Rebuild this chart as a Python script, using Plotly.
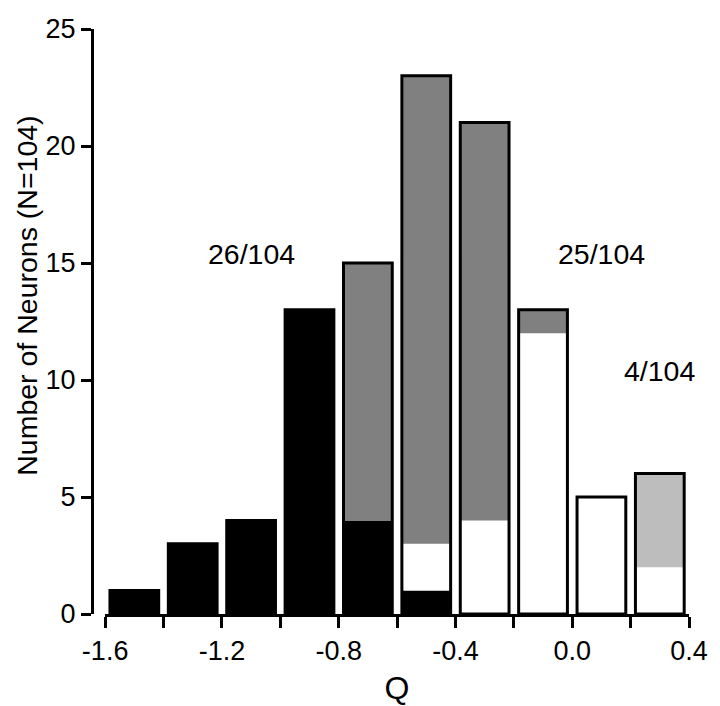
import numpy as np
import plotly.graph_objects as go

# Bin centres of the Q histogram
q_centers = [-1.5, -1.3, -1.1, -0.9, -0.7, -0.5, -0.3, -0.1, 0.1, 0.3]

# Neuron counts per bin, split by group
black_counts = [1, 3, 4, 13, 4, 1, 0, 0, 0, 0]
white_counts = [0, 0, 0, 0, 0, 2, 4, 12, 5, 2]
dark_counts = [0, 0, 0, 0, 11, 20, 17, 1, 0, 0]
light_counts = [0, 0, 0, 0, 0, 0, 0, 0, 0, 4]

# Group fractions written above the bars
group_labels = ["26/104", "49/104", "25/104", "4/104"]
label_x = [-1.1, -0.5, 0.1, 0.3]
label_y = [15.4, 25.4, 15.4, 10.4]

x_tickvals = [-1.6, -1.4, -1.2, -1.0, -0.8, -0.6, -0.4, -0.2, 0.0, 0.2, 0.4]
x_ticktext = ["-1.6", "", "-1.2", "", "-0.8", "", "-0.4", "", "0.0", "", "0.4"]
y_tickvals = [0, 5, 10, 15, 20, 25]

FONT = "Arial, 'Liberation Sans', sans-serif"
BAR_W = 0.167

black = np.array(black_counts)
white = np.array(white_counts)
dark = np.array(dark_counts)
light = np.array(light_counts)

# stack bottom -> top: black, white, dark gray, light gray
layers = [
    (black, np.zeros_like(black), "#000000"),
    (white, black, "#ffffff"),
    (dark, black + white, "#808080"),
    (light, black + white + dark, "#bdbdbd"),
]
totals = black + white + dark + light

fig = go.Figure()
for vals, base, color in layers:
    fig.add_trace(go.Bar(
        x=q_centers, y=vals, base=base, width=BAR_W,
        marker=dict(color=color, line=dict(width=0)),
        showlegend=False,
    ))

# outline around each whole stack
fig.add_trace(go.Bar(
    x=q_centers, y=totals, width=BAR_W,
    marker=dict(color="rgba(0,0,0,0)", line=dict(color="black", width=3)),
    showlegend=False,
))

for txt, x, y in zip(group_labels, label_x, label_y):
    fig.add_annotation(x=x, y=y, text=txt, showarrow=False,
                       font=dict(family=FONT, size=28.5, color="black"))

# y title sits a bit above the axis centre in the original
fig.add_annotation(x=0, xref="paper", xanchor="center", xshift=-65,
                   y=13.6, yref="y", yanchor="middle",
                   text="Number of Neurons (N=104)", textangle=-90,
                   showarrow=False, font=dict(family=FONT, size=28.5, color="black"))

# page body adds an 8px offset, so the figure is 8px smaller
fig.update_layout(
    width=712, height=698,
    barmode="overlay",
    plot_bgcolor="white", paper_bgcolor="white",
    margin=dict(l=84, r=31, t=21, b=92),
    font=dict(family=FONT, size=27, color="black"),
    xaxis=dict(
        range=[-1.6, 0.4], domain=[0.022, 1], automargin=False,
        tickvals=x_tickvals, ticktext=x_ticktext,
        showline=True, linecolor="black", linewidth=3,
        ticks="outside", ticklen=11, tickwidth=3, tickcolor="black",
        showgrid=False, zeroline=False,
        title=dict(text="Q", standoff=12),
    ),
    yaxis=dict(
        range=[0, 25], anchor="free", position=0, automargin=False,
        tickvals=y_tickvals,
        showline=True, linecolor="black", linewidth=3,
        ticks="outside", ticklen=10, tickwidth=3, tickcolor="black",
        showgrid=False, zeroline=False,
    ),
)

fig.write_html("out.html")
